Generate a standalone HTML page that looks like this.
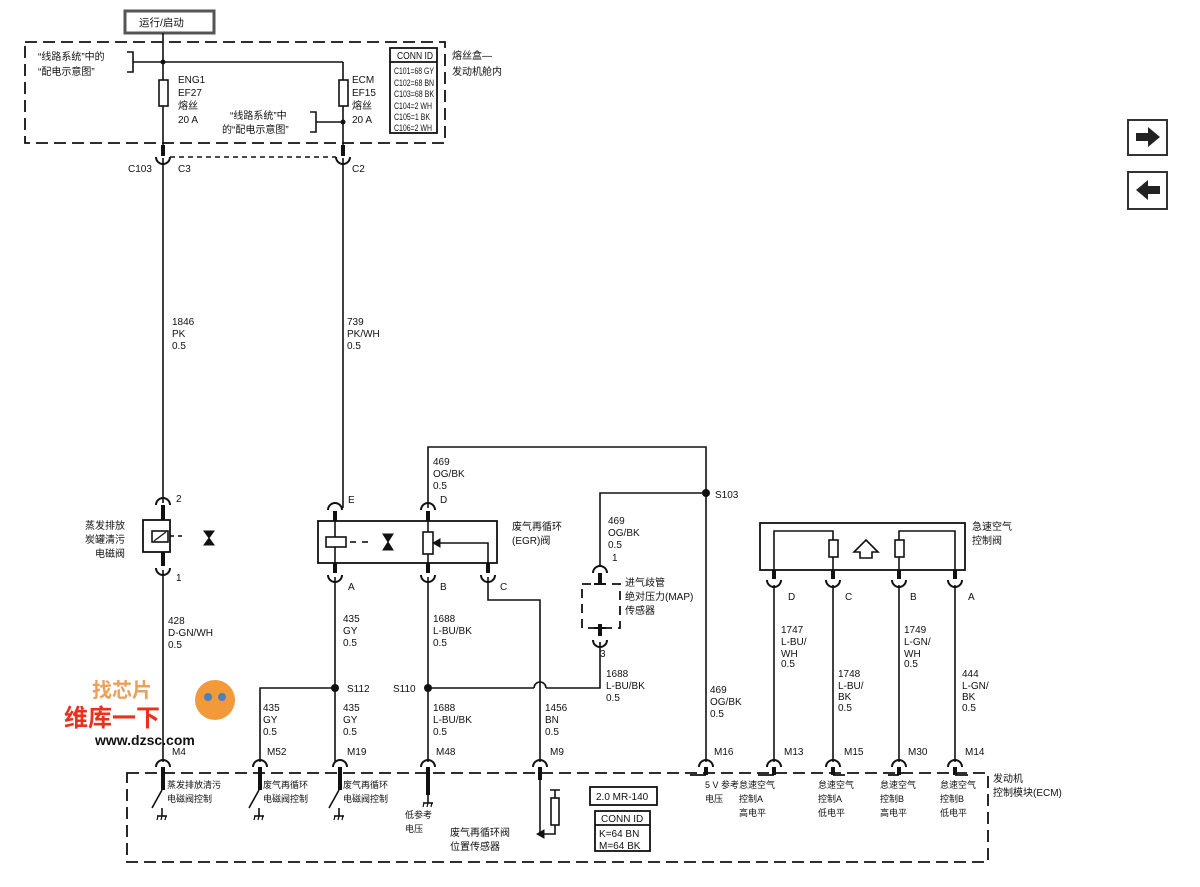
<!DOCTYPE html>
<html><head><meta charset="utf-8"><style>
html,body{margin:0;padding:0;background:#fff;}
svg{display:block;}
text{font-family:"Liberation Sans","Noto Sans CJK SC",sans-serif;font-size:10px;fill:#111;}
.c{font-size:10.5px;}
.s text{font-size:9px;}
</style></head><body>
<svg width="1200" height="887" viewBox="0 0 1200 887" xmlns="http://www.w3.org/2000/svg">
<defs>
<path id="cd" d="M-7,5 A7,7 0 0 1 7,5" fill="none" stroke="#111" stroke-width="2"/>
<path id="cu" d="M-7,-5 A7,7 0 0 0 7,-5" fill="none" stroke="#111" stroke-width="2"/>
<g id="gnd"><line x1="0" y1="0" x2="0" y2="8" stroke="#111" stroke-width="1.6"/><line x1="-5" y1="8" x2="5" y2="8" stroke="#111" stroke-width="1.6"/><line x1="-4" y1="8" x2="-5" y2="12" stroke="#111" stroke-width="1.2"/><line x1="0" y1="8" x2="-1" y2="12" stroke="#111" stroke-width="1.2"/><line x1="4" y1="8" x2="3" y2="12" stroke="#111" stroke-width="1.2"/></g>
</defs>
<g stroke="#111" fill="none" stroke-width="1.6">
<rect x="125" y="11" width="89" height="22" stroke="#555" stroke-width="3"/>
<rect x="25" y="42" width="420" height="101" stroke-dasharray="12,6" stroke-width="1.8"/>
<line x1="163" y1="33" x2="163" y2="150"/>
<line x1="163" y1="62" x2="343" y2="62"/>
<line x1="343" y1="62" x2="343" y2="150"/>
<path d="M127,52 H133 V72 H127 M133,62 H163"/>
<path d="M310,112 H316 V132 H310 M316,122 H343"/>
<rect x="159" y="80" width="9" height="26" fill="#fff"/>
<rect x="339" y="80" width="9" height="26" fill="#fff"/>
<rect x="390" y="48" width="47" height="85" stroke-width="1.8"/>
<line x1="390" y1="62" x2="437" y2="62" stroke-width="1.8"/>
<line x1="163" y1="145" x2="163" y2="156" stroke-width="4"/>
<line x1="343" y1="145" x2="343" y2="156" stroke-width="4"/>
<line x1="170" y1="157" x2="336" y2="157" stroke-dasharray="5,4"/>
<line x1="163" y1="158" x2="163" y2="503"/>
<line x1="343" y1="158" x2="343" y2="508"/>
<rect x="143" y="520" width="27" height="32" stroke-width="1.8"/>
<line x1="163" y1="505" x2="163" y2="520" stroke-width="4"/>
<line x1="163" y1="552" x2="163" y2="566" stroke-width="4"/>
<rect x="152" y="531" width="16" height="11" fill="#fff"/>
<line x1="154" y1="541" x2="166" y2="532" stroke-width="1.2"/>
<line x1="170" y1="536" x2="174" y2="536"/>
<line x1="178" y1="536" x2="182" y2="536"/>
<path d="M204,531 L214,531 L204,545 L214,545 Z" fill="#111" stroke-width="1"/>
<line x1="163" y1="570" x2="163" y2="762"/>
<rect x="318" y="521" width="179" height="42" stroke-width="1.8"/>
<line x1="335" y1="511" x2="335" y2="521" stroke-width="4"/>
<line x1="335" y1="563" x2="335" y2="573" stroke-width="4"/>
<line x1="428" y1="511" x2="428" y2="521" stroke-width="4"/>
<line x1="428" y1="563" x2="428" y2="573" stroke-width="4"/>
<line x1="488" y1="563" x2="488" y2="573" stroke-width="4"/>
<line x1="335" y1="521" x2="335" y2="563"/>
<rect x="326" y="537" width="20" height="10" fill="#fff"/>
<line x1="350" y1="542" x2="356" y2="542"/><line x1="362" y1="542" x2="368" y2="542"/>
<path d="M383,534 L393,534 L383,550 L393,550 Z" fill="#111" stroke-width="1"/>
<line x1="428" y1="521" x2="428" y2="563"/>
<rect x="423" y="532" width="10" height="22" fill="#fff"/>
<path d="M488,563 V543 H440"/>
<path d="M433,543 L440,539 L440,547 Z" fill="#111" stroke-width="1"/>
<path d="M428,508 V447 H706 V762"/>
<path d="M706,493 H600 V566"/>
<line x1="600" y1="573" x2="600" y2="584" stroke-width="4"/>
<rect x="582" y="584" width="38" height="44" stroke-dasharray="9,6" stroke-width="1.8"/>
<line x1="594" y1="584" x2="606" y2="584" stroke-width="2"/>
<line x1="594" y1="628" x2="606" y2="628" stroke-width="2"/>
<line x1="600" y1="624" x2="600" y2="636" stroke-width="4"/>
<path d="M600,642 V688 H546 M534,688 H428"/>
<path d="M534,688 A6,6 0 0 1 546,688"/>
<path d="M488,577 V600 H540 V762"/>
<line x1="335" y1="577" x2="335" y2="762"/>
<line x1="428" y1="577" x2="428" y2="762"/>
<path d="M335,688 H260 V762"/>
<rect x="760" y="523" width="205" height="47" stroke-width="1.8"/>
<path d="M774,570 V531 H833 V540"/>
<rect x="829" y="540" width="9" height="17" fill="#fff"/>
<line x1="833" y1="557" x2="833" y2="570"/>
<path d="M955,570 V531 H899 V540"/>
<rect x="895" y="540" width="9" height="17" fill="#fff"/>
<line x1="899" y1="557" x2="899" y2="570"/>
<path d="M866,540 L878,552 L872,552 L872,558 L860,558 L860,552 L854,552 Z" fill="#fff"/>
<line x1="774" y1="570" x2="774" y2="579" stroke-width="4"/>
<line x1="833" y1="570" x2="833" y2="579" stroke-width="4"/>
<line x1="899" y1="570" x2="899" y2="579" stroke-width="4"/>
<line x1="955" y1="570" x2="955" y2="579" stroke-width="4"/>
<line x1="774" y1="585" x2="774" y2="762"/>
<line x1="833" y1="585" x2="833" y2="762"/>
<line x1="899" y1="585" x2="899" y2="762"/>
<line x1="955" y1="585" x2="955" y2="762"/>
<rect x="127" y="773" width="861" height="89" stroke-dasharray="12,6" stroke-width="1.8"/>
<g stroke-width="4">
<line x1="163" y1="767" x2="163" y2="790"/><line x1="260" y1="767" x2="260" y2="790"/><line x1="340" y1="767" x2="340" y2="790"/>
<line x1="428" y1="767" x2="428" y2="795"/><line x1="540" y1="767" x2="540" y2="780"/>
<line x1="706" y1="767" x2="706" y2="775"/><line x1="774" y1="767" x2="774" y2="775"/><line x1="833" y1="767" x2="833" y2="775"/><line x1="899" y1="767" x2="899" y2="775"/><line x1="955" y1="767" x2="955" y2="775"/>
</g>
<path d="M706,775 H690 M774,775 H758 M833,775 H845 M899,775 H888 M955,775 H968" stroke-width="1.8"/>
<line x1="162" y1="790" x2="152" y2="808"/><line x1="259" y1="790" x2="249" y2="808"/><line x1="339" y1="790" x2="329" y2="808"/>
<line x1="540" y1="780" x2="540" y2="834"/>
<path d="M555,790 V798 M550,790 H560 M555,825 V834 H544"/>
<rect x="551" y="798" width="8" height="27" fill="#fff"/>
<path d="M537,834 L544,830 L544,838 Z" fill="#111" stroke-width="1"/>
<rect x="590" y="787" width="67" height="18" stroke-width="1.8"/>
<rect x="595" y="811" width="55" height="40" stroke-width="1.8"/>
<line x1="595" y1="825" x2="650" y2="825" stroke-width="1.8"/>
<rect x="1128" y="120" width="39" height="35" stroke="#333" stroke-width="2"/>
<rect x="1128" y="172" width="39" height="37" stroke="#333" stroke-width="2"/>
</g>
<path d="M1136,133 H1148 V127 L1160,137 L1148,147 V141 H1136 Z" fill="#222"/>
<path d="M1160,186 H1148 V180 L1136,190 L1148,200 V194 H1160 Z" fill="#222"/>
<g>
<use href="#cu" x="163" y="162"/><use href="#cu" x="343" y="162"/>
<use href="#cd" x="163" y="500"/><use href="#cu" x="163" y="573"/>
<use href="#cd" x="335" y="505"/><use href="#cd" x="428" y="505"/>
<use href="#cu" x="335" y="580"/><use href="#cu" x="428" y="580"/><use href="#cu" x="488" y="580"/>
<use href="#cd" x="600" y="568"/><use href="#cu" x="600" y="645"/>
<use href="#cu" x="774" y="585"/><use href="#cu" x="833" y="585"/><use href="#cu" x="899" y="585"/><use href="#cu" x="955" y="585"/>
<use href="#cd" x="163" y="762"/><use href="#cd" x="260" y="762"/><use href="#cd" x="340" y="762"/><use href="#cd" x="428" y="762"/><use href="#cd" x="540" y="762"/><use href="#cd" x="706" y="762"/><use href="#cd" x="774" y="762"/><use href="#cd" x="833" y="762"/><use href="#cd" x="899" y="762"/><use href="#cd" x="955" y="762"/>
<use href="#gnd" x="162" y="808"/><use href="#gnd" x="259" y="808"/><use href="#gnd" x="339" y="808"/><use href="#gnd" x="428" y="795"/>
</g>
<g fill="#111"><circle cx="163" cy="62" r="2.5"/><circle cx="343" cy="122" r="2.5"/><circle cx="706" cy="493" r="4"/><circle cx="335" cy="688" r="4"/><circle cx="428" cy="688" r="4"/></g>
<text x="139" y="26" class="c">运行/启动</text>
<text x="38" y="60">“线路系统”中的</text><text x="38" y="75">“配电示意图”</text>
<text x="178" y="83">ENG1</text><text x="178" y="96">EF27</text><text x="178" y="109">熔丝</text><text x="178" y="123">20 A</text>
<text x="352" y="83">ECM</text><text x="352" y="96">EF15</text><text x="352" y="109">熔丝</text><text x="352" y="123">20 A</text>
<text x="230" y="119">“线路系统”中</text><text x="222" y="133">的“配电示意图”</text>
<text x="397" y="59" textLength="36" lengthAdjust="spacingAndGlyphs">CONN ID</text>
<g class="s">
<text x="394" y="74" textLength="40" lengthAdjust="spacingAndGlyphs">C101=68 GY</text>
<text x="394" y="86" textLength="40" lengthAdjust="spacingAndGlyphs">C102=68 BN</text>
<text x="394" y="97" textLength="40" lengthAdjust="spacingAndGlyphs">C103=68 BK</text>
<text x="394" y="109" textLength="38" lengthAdjust="spacingAndGlyphs">C104=2 WH</text>
<text x="394" y="120" textLength="36" lengthAdjust="spacingAndGlyphs">C105=1 BK</text>
<text x="394" y="131" textLength="38" lengthAdjust="spacingAndGlyphs">C106=2 WH</text>
</g>
<text x="452" y="59">熔丝盒—</text><text x="452" y="75">发动机舱内</text>
<text x="128" y="172">C103</text><text x="178" y="172">C3</text><text x="352" y="172">C2</text>
<text x="172" y="325">1846</text><text x="172" y="337">PK</text><text x="172" y="349">0.5</text>
<text x="347" y="325">739</text><text x="347" y="337">PK/WH</text><text x="347" y="349">0.5</text>
<text x="176" y="502">2</text><text x="176" y="581">1</text>
<text x="125" y="529" text-anchor="end">蒸发排放</text><text x="125" y="543" text-anchor="end">炭罐清污</text><text x="125" y="557" text-anchor="end">电磁阀</text>
<text x="168" y="624">428</text><text x="168" y="636">D-GN/WH</text><text x="168" y="648">0.5</text>
<text x="433" y="465">469</text><text x="433" y="477">OG/BK</text><text x="433" y="489">0.5</text>
<text x="348" y="503">E</text><text x="440" y="503">D</text>
<text x="512" y="530">废气再循环</text><text x="512" y="544">(EGR)阀</text>
<text x="348" y="590">A</text><text x="440" y="590">B</text><text x="500" y="590">C</text>
<text x="715" y="498">S103</text>
<text x="608" y="524">469</text><text x="608" y="536">OG/BK</text><text x="608" y="548">0.5</text>
<text x="612" y="561">1</text><text x="600" y="657">3</text>
<text x="625" y="586">进气歧管</text><text x="625" y="600">绝对压力(MAP)</text><text x="625" y="614">传感器</text>
<text x="343" y="622">435</text><text x="343" y="634">GY</text><text x="343" y="646">0.5</text>
<text x="433" y="622">1688</text><text x="433" y="634">L-BU/BK</text><text x="433" y="646">0.5</text>
<text x="606" y="677">1688</text><text x="606" y="689">L-BU/BK</text><text x="606" y="701">0.5</text>
<text x="347" y="692">S112</text><text x="393" y="692">S110</text>
<text x="263" y="711">435</text><text x="263" y="723">GY</text><text x="263" y="735">0.5</text>
<text x="343" y="711">435</text><text x="343" y="723">GY</text><text x="343" y="735">0.5</text>
<text x="433" y="711">1688</text><text x="433" y="723">L-BU/BK</text><text x="433" y="735">0.5</text>
<text x="545" y="711">1456</text><text x="545" y="723">BN</text><text x="545" y="735">0.5</text>
<text x="710" y="693">469</text><text x="710" y="705">OG/BK</text><text x="710" y="717">0.5</text>
<text x="972" y="530">急速空气</text><text x="972" y="544">控制阀</text>
<text x="788" y="600">D</text><text x="845" y="600">C</text><text x="910" y="600">B</text><text x="968" y="600">A</text>
<text x="781" y="633">1747</text><text x="781" y="645">L-BU/</text><text x="781" y="657">WH</text><text x="781" y="667">0.5</text>
<text x="838" y="677">1748</text><text x="838" y="689">L-BU/</text><text x="838" y="700">BK</text><text x="838" y="711">0.5</text>
<text x="904" y="633">1749</text><text x="904" y="645">L-GN/</text><text x="904" y="657">WH</text><text x="904" y="667">0.5</text>
<text x="962" y="677">444</text><text x="962" y="689">L-GN/</text><text x="962" y="700">BK</text><text x="962" y="711">0.5</text>
<text x="172" y="755">M4</text><text x="267" y="755">M52</text><text x="347" y="755">M19</text><text x="436" y="755">M48</text><text x="550" y="755">M9</text><text x="714" y="755">M16</text><text x="784" y="755">M13</text><text x="844" y="755">M15</text><text x="908" y="755">M30</text><text x="965" y="755">M14</text>
<text x="993" y="782">发动机</text><text x="993" y="796">控制模块(ECM)</text>
<g class="s">
<text x="167" y="788">蒸发排放清污</text><text x="167" y="802">电磁阀控制</text>
<text x="263" y="788">废气再循环</text><text x="263" y="802">电磁阀控制</text>
<text x="343" y="788">废气再循环</text><text x="343" y="802">电磁阀控制</text>
<text x="405" y="818">低参考</text><text x="405" y="832">电压</text>
<text x="705" y="788">5 V 参考</text><text x="705" y="802">电压</text>
<text x="739" y="788">怠速空气</text><text x="739" y="802">控制A</text><text x="739" y="816">高电平</text>
<text x="818" y="788">怠速空气</text><text x="818" y="802">控制A</text><text x="818" y="816">低电平</text>
<text x="880" y="788">怠速空气</text><text x="880" y="802">控制B</text><text x="880" y="816">高电平</text>
<text x="940" y="788">怠速空气</text><text x="940" y="802">控制B</text><text x="940" y="816">低电平</text>
</g>
<text x="450" y="836">废气再循环阀</text><text x="450" y="850">位置传感器</text>
<text x="596" y="800">2.0 MR-140</text>
<text x="601" y="822">CONN ID</text><text x="599" y="837">K=64 BN</text><text x="599" y="849">M=64 BK</text>
<text x="92" y="697" style="font-size:20px;font-weight:bold;fill:#e9a25a">找芯片</text>
<circle cx="215" cy="700" r="20" fill="#f29a3a"/>
<circle cx="208" cy="697" r="4" fill="#4a7fc0"/><circle cx="222" cy="697" r="4" fill="#4a7fc0"/>
<text x="64" y="726" style="font-size:24px;font-weight:bold;fill:#e8321e">维库一下</text>
<text x="95" y="745" style="font-size:14px;font-weight:bold;fill:#111">www.dzsc.com</text>
</svg>
</body></html>
